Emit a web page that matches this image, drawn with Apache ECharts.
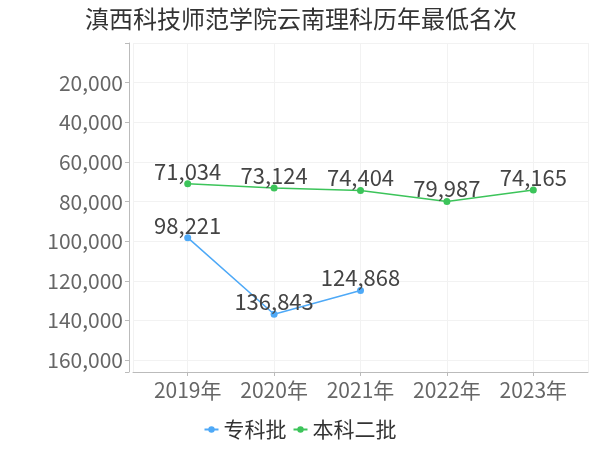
<!DOCTYPE html>
<html>
<head>
<meta charset="utf-8">
<script src="https://cdn.jsdelivr.net/npm/echarts@6/dist/echarts.min.js"></script>
<style>html,body{margin:0;padding:0;background:#fff}#c{width:600px;height:450px}</style>
</head>
<body>
<div id="c"></div>
<script>
var titleText = '滇西科技师范学院云南理科历年最低名次';
var categories = ['2019年', '2020年', '2021年', '2022年', '2023年'];
var seriesNames = ['专科批', '本科二批'];
var zhuankeValues = [98221, 136843, 124868, null, null];
var benkeValues = [71034, 73124, 74404, 79987, 74165];

var FONT = '"Noto Sans CJK SC", "Noto Sans", sans-serif';
function toPairs(vals) {
  return vals.map(function (v, i) { return [i, v]; });
}
function fmt(v) {
  return v.toLocaleString('en-US');
}
var chart = echarts.init(document.getElementById('c'), null, {renderer: 'canvas'});
var labelCfg = {
  show: true, position: 'top', distance: -2,
  color: '#444', fontSize: 22, fontFamily: FONT,
  formatter: function (p) { return fmt(p.value[1]); }
};
chart.setOption({
  animation: false,
  backgroundColor: '#fff',
  title: {
    text: titleText, left: 80, top: 2,
    textStyle: {color: '#333', fontSize: 24, fontWeight: 'normal', fontFamily: FONT}
  },
  legend: {
    bottom: 5, left: 'center',
    itemWidth: 14, itemHeight: 8, itemGap: 6,
    textStyle: {color: '#333', fontSize: 21, fontFamily: FONT},
    data: seriesNames
  },
  grid: {left: 133, right: 12, top: 43, bottom: 78},
  xAxis: {
    type: 'value',
    min: -0.633, max: 4.633,
    axisLine: {show: true, onZero: false, lineStyle: {color: '#bbb'}},
    axisTick: {show: true, lineStyle: {color: '#bbb'}, length: 4},
    splitLine: {show: true, lineStyle: {color: '#f2f2f2'}},
    axisLabel: {
      color: '#666', fontSize: 21, fontFamily: FONT, margin: 8,
      showMinLabel: false, showMaxLabel: false,
      formatter: function (v) {
        var r = Math.round(v);
        return Math.abs(v - r) < 1e-6 && categories[r] ? categories[r] : '';
      }
    }
  },
  yAxis: {
    type: 'value', inverse: true,
    min: 0, max: 166000, interval: 20000,
    offset: 4,
    axisLine: {show: true, onZero: false, lineStyle: {color: '#bbb'}},
    axisTick: {show: true, lineStyle: {color: '#bbb'}, length: 4},
    splitLine: {show: true, lineStyle: {color: '#f2f2f2'}},
    axisLabel: {
      color: '#666', fontSize: 21, fontFamily: FONT, margin: 6,
      formatter: function (v) {
        if (v === 0 || v % 20000 !== 0) return '';
        return fmt(v);
      }
    }
  },
  series: [
    {
      name: seriesNames[0], type: 'line', data: toPairs(zhuankeValues),
      color: '#4ea9f7', symbol: 'circle', symbolSize: 7,
      lineStyle: {width: 1.5}, label: labelCfg, connectNulls: false
    },
    {
      name: seriesNames[1], type: 'line', data: toPairs(benkeValues),
      color: '#3cc45a', symbol: 'circle', symbolSize: 7,
      lineStyle: {width: 1.5}, label: labelCfg
    }
  ]
});
</script>
</body>
</html>
